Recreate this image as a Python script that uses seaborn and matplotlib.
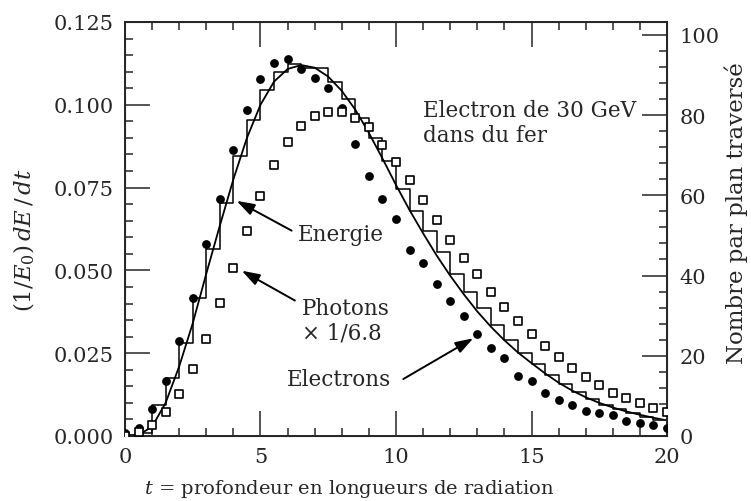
import numpy as np
import pandas as pd
import matplotlib
matplotlib.use("Agg")
import matplotlib.pyplot as plt
from matplotlib.ticker import MultipleLocator, FormatStrFormatter
import seaborn as sns

# depth grid (radiation lengths) for the sampled points, step 0.5
t_points = np.arange(0, 20.5, 0.5)

# energy deposition histogram, 40 bins of 0.5 X0 on 0..20 (left axis)
bin_centers = np.arange(0.25, 20, 0.5)
energy_hist = [0.0003, 0.0009, 0.0095, 0.0175, 0.0281, 0.0416, 0.0565, 0.0704,
               0.0846, 0.0954, 0.1046, 0.1098, 0.1122, 0.1112, 0.1110, 0.1070,
               0.1018, 0.0960, 0.0900, 0.0830, 0.0745, 0.0680, 0.0620, 0.0555,
               0.0490, 0.0435, 0.0385, 0.0335, 0.0290, 0.0250, 0.0218, 0.0185,
               0.0158, 0.0132, 0.0112, 0.0095, 0.0080, 0.0068, 0.0058, 0.0048]

# smooth fitted curve read at t_points (left axis)
energy_fit = [0.0, 0.0003, 0.0028, 0.0100, 0.0210, 0.0340, 0.0490, 0.0635,
              0.0775, 0.0900, 0.1000, 0.1070, 0.1108, 0.1120, 0.1112, 0.1085,
              0.1042, 0.0985, 0.0915, 0.0838, 0.0758, 0.0682, 0.0612, 0.0545,
              0.0484, 0.0428, 0.0376, 0.0330, 0.0289, 0.0252, 0.0220, 0.0189,
              0.0161, 0.0137, 0.0117, 0.0100, 0.0086, 0.0074, 0.0064, 0.0055,
              0.0047]

# number per plane crossed (right axis)
electrons = [0.8, 2.1, 6.7, 13.8, 23.8, 34.3, 47.9, 59.1, 71.3, 81.2, 89.1,
             93.0, 94.0, 91.6, 89.2, 86.7, 81.7, 72.8, 64.9, 59.1, 54.1, 46.3,
             43.1, 37.9, 33.7, 30.0, 25.4, 22.0, 19.4, 15.0, 13.6, 10.6, 9.0,
             7.7, 6.3, 5.7, 5.3, 3.8, 3.2, 2.7, 2.0]
photons = [0.0, 0.9, 2.7, 5.9, 10.4, 16.7, 24.3, 33.1, 41.8, 51.2, 59.9,
           67.5, 73.3, 77.3, 79.7, 80.8, 80.8, 79.3, 76.9, 72.5, 68.4, 63.9,
           58.8, 53.9, 48.9, 44.3, 40.4, 36.0, 32.2, 28.6, 25.3, 22.4, 19.6,
           16.9, 14.8, 12.7, 10.7, 9.5, 8.2, 6.9, 5.9]

hist_df = pd.DataFrame({"t": bin_centers, "w": energy_hist})
pts_df = pd.DataFrame({"t": t_points, "fit": energy_fit,
                       "electrons": electrons, "photons": photons})

sns.set_style("ticks")
plt.rcParams["font.family"] = ["DejaVu Serif"]
plt.rcParams["mathtext.fontset"] = "dejavuserif"

FS = 15

fig = plt.figure(figsize=(7.51, 5.02), dpi=100)
ax = fig.add_axes([0.1664, 0.1295, 0.7218, 0.8247])

sns.histplot(data=hist_df, x="t", weights="w", bins=40, binrange=(0, 20),
             element="step", fill=False, color="black", linewidth=1.1, ax=ax)
sns.lineplot(data=pts_df, x="t", y="fit", color="black", linewidth=1.3, ax=ax)

ax.set_xlim(0, 20)
ax.set_ylim(0, 0.125)
ax.xaxis.set_major_locator(MultipleLocator(5))
ax.xaxis.set_minor_locator(MultipleLocator(1))
ax.yaxis.set_major_locator(MultipleLocator(0.025))
ax.yaxis.set_minor_locator(MultipleLocator(0.005))
ax.yaxis.set_major_formatter(FormatStrFormatter("%.3f"))
ax.tick_params(which="both", direction="in", top=True, right=False,
               width=1.1, labelsize=FS, pad=8)
ax.tick_params(which="major", length=18)
ax.tick_params(which="minor", length=6)
for s in ax.spines.values():
    s.set_linewidth(1.4)

ax.set_xlabel(r"$t$ = profondeur en longueurs de radiation", fontsize=14)
ax.xaxis.set_label_coords(0.413, -0.1)
ax.set_ylabel(r"$(1/E_0)\,dE\,/\,dt$", fontsize=16.5)
ax.yaxis.set_label_coords(-0.162, 0.476)

ax2 = ax.twinx()
sns.scatterplot(data=pts_df, x="t", y="electrons", marker="o", s=40,
                color="black", edgecolor="black", linewidth=0, ax=ax2,
                zorder=3)
sns.scatterplot(data=pts_df, x="t", y="photons", marker="s", s=28,
                facecolor="white", edgecolor="black", linewidth=1.2, ax=ax2,
                zorder=3)
ax2.set_ylim(0, 103.2)
ax2.yaxis.set_major_locator(MultipleLocator(20))
ax2.yaxis.set_minor_locator(MultipleLocator(4))
ax2.tick_params(which="both", direction="in", width=1.1, labelsize=FS, pad=9)
ax2.tick_params(which="major", length=18)
ax2.tick_params(which="minor", length=6)
ax2.set_ylabel("Nombre par plan traversé", fontsize=16.5)
ax2.yaxis.set_label_coords(1.106, 0.541)

arrow = dict(arrowstyle="-|>,head_length=0.6,head_width=0.2", color="black",
             lw=1.4, mutation_scale=18, shrinkA=0, shrinkB=0)

ax.text(6.38, 0.0610, "Energie", fontsize=15.5, ha="left", va="center")
ax.annotate("", xy=(4.12, 0.0710), xytext=(6.15, 0.0620), arrowprops=arrow)

ax.text(6.53, 0.0349, "Photons\n× 1/6.8", fontsize=15.5, ha="left",
        va="center", linespacing=1.15)
ax.annotate("", xy=(4.31, 0.0499), xytext=(6.27, 0.0409), arrowprops=arrow)

ax.text(5.98, 0.0172, "Electrons", fontsize=15.5, ha="left", va="center")
ax.annotate("", xy=(12.85, 0.0295), xytext=(10.27, 0.0172), arrowprops=arrow)

ax.text(11.0, 0.0947, "Electron de 30 GeV\ndans du fer", fontsize=15.5,
        ha="left", va="center", linespacing=1.15)

fig.savefig("out.png", dpi=100)
